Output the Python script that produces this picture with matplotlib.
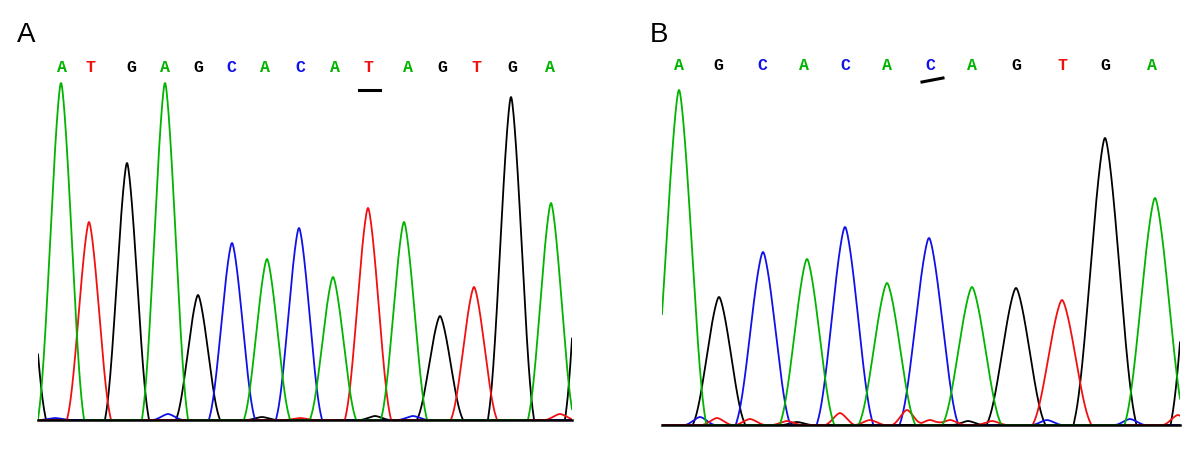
import numpy as np
import matplotlib
matplotlib.use("Agg")
import matplotlib.pyplot as plt

# base colours of the four dye traces
colours = {"A": "#00b400", "C": "#1010e8", "G": "#000000", "T": "#f01010"}

# ---- panel A : peaks (x in scan units, height above baseline)
A_calls = "ATGAGCACATAGTGA"
A_call_x = [62, 90, 131, 165, 198, 231, 265, 300, 335, 369, 408, 442, 477, 512, 550]
A_peak_base = "GATGAGCACATAGTGAG"
A_peak_x = [23, 61, 89, 127, 165, 198, 232, 267, 299, 333, 368, 404, 440, 474, 511, 551, 588]
A_peak_h = [220, 337, 198, 257, 337, 125, 177, 161, 192, 143, 212, 198, 104, 133, 323, 217, 330]
A_peak_w = [22, 22, 21, 21, 22, 21, 22, 22, 22, 22, 22, 22, 22, 22, 22, 22, 22]
A_noise_base = "CCGGCTT"
A_noise_x = [55, 168, 262, 375, 413, 560, 300]
A_noise_h = [2, 6, 3, 4, 4, 6, 2]
A_mark = 369          # underlined base call

# ---- panel B
B_calls = "AGCACACAGTGA"
B_call_x = [679, 718, 762, 804, 845, 887, 930, 972, 1016, 1062, 1105, 1152]
B_peak_base = "AGCACACAGTGAG"
B_peak_x = [679, 719, 763, 807, 845, 887, 929, 972, 1016, 1062, 1105, 1155, 1201]
B_peak_h = [335, 128, 173, 166, 198, 142, 187, 138, 137, 125, 287, 227, 330]
B_peak_w = [26, 25, 26, 26, 27, 27, 28, 28, 28, 28, 30, 29, 29]
B_noise_base = "CTTTGTTTTTGTCACT"
B_noise_x = [700, 717, 750, 787, 797, 840, 870, 907, 930, 950, 968, 992, 1047, 1047, 1130, 1178]
B_noise_h = [8, 7, 6, 4, 3, 12, 5, 15, 5, 5, 4, 4, 5, 0, 6, 10]
B_mark = 930


def trace(x, centers, heights, widths):
    # half triangle, half raised cosine: pointed top, tapered feet
    y = np.zeros_like(x)
    e = 0.05
    for c, h, w in zip(centers, heights, widths):
        u = (x - c) / w
        tri = np.clip(1 - np.sqrt(u ** 2 + e ** 2) + e, 0, None)
        cos2 = np.where(np.abs(u) < 1, np.cos(np.pi * u / 2) ** 2, 0.0)
        y += h * (0.5 * tri + 0.5 * cos2)
    return y


def panel(ax, xlim, calls, call_x, pbase, px, ph, pw, nbase, nx, nh, letter_y):
    x = np.linspace(xlim[0], xlim[1], 1500)
    for b in "GCTA":
        sel = [i for i, bb in enumerate(pbase) if bb == b]
        y = trace(x, [px[i] for i in sel], [ph[i] for i in sel], [pw[i] for i in sel])
        nsel = [i for i, bb in enumerate(nbase) if bb == b]
        y += trace(x, [nx[i] for i in nsel], [nh[i] for i in nsel], [14] * len(nsel))
        ax.plot(x, y, color=colours[b], lw=1.3)
    for c, xx in zip(calls, call_x):
        ax.text(xx, letter_y, c, color=colours[c], ha="center", va="center",
                fontsize=12, fontweight="bold", family="Liberation Mono")
    ax.set_xlim(*xlim)
    ax.set_xticks([])
    ax.set_yticks([])
    for s in ["top", "left", "right"]:
        ax.spines[s].set_visible(False)
    ax.spines["bottom"].set_linewidth(1.8)


W, H = 1200, 457
fig = plt.figure(figsize=(12, 4.57), dpi=100)

axA = fig.add_axes([38 / W, (H - 420) / H, (572 - 38) / W, 365 / H])
axA.set_ylim(0, 365)
panel(axA, (38, 572), A_calls, A_call_x, A_peak_base, A_peak_x, A_peak_h, A_peak_w,
      A_noise_base, A_noise_x, A_noise_h, 353)
axA.plot([A_mark - 10, A_mark + 11], [330, 330], color="black", lw=2.2, clip_on=False)

axB = fig.add_axes([662 / W, (H - 425) / H, (1180 - 662) / W, 370 / H])
axB.set_ylim(0, 370)
panel(axB, (662, 1180), B_calls, B_call_x, B_peak_base, B_peak_x, B_peak_h, B_peak_w,
      B_noise_base, B_noise_x, B_noise_h, 360)
axB.plot([B_mark - 8, B_mark + 13], [343, 347], color="black", lw=2.2, clip_on=False)

fig.text(17 / W, 1 - 42 / H, "A", fontsize=20, family="Liberation Sans", va="baseline")
fig.text(650 / W, 1 - 42 / H, "B", fontsize=20, family="Liberation Sans", va="baseline")

fig.savefig("out.png", dpi=100)
